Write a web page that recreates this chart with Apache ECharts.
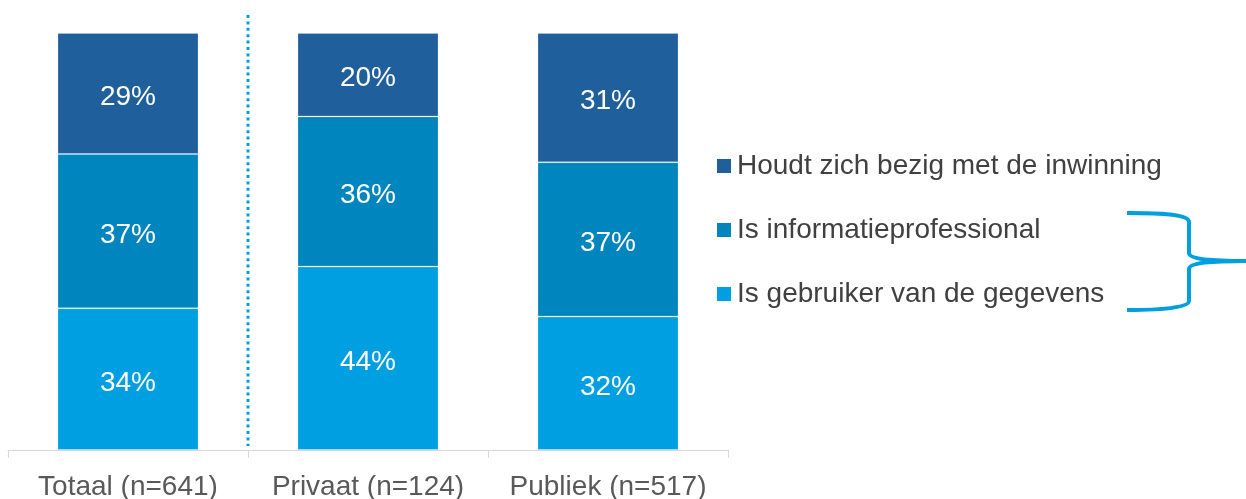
<!DOCTYPE html>
<html>
<head>
<meta charset="utf-8">
<script src="https://cdn.jsdelivr.net/npm/echarts@6/dist/echarts.min.js"></script>
<style>
  html, body { margin: 0; padding: 0; background: #fff; }
  #chart { width: 1246px; height: 499px; }
</style>
</head>
<body>
<div id="chart"></div>
<script>
const categories = ['Totaal (n=641)', 'Privaat (n=124)', 'Publiek (n=517)'];
const seriesNames = ['Houdt zich bezig met de inwinning', 'Is informatieprofessional', 'Is gebruiker van de gegevens'];
const gebruiker = [34, 44, 32];
const informatie = [37, 36, 37];
const inwinning = [29, 20, 31];
const colors = ['#1F5F9B', '#0085BF', '#009FE1'];

const font = '"Liberation Sans", Arial, sans-serif';

let chart = echarts.init(document.getElementById('chart'));

function barSeries(name, data, color) {
    return {
        name: name,
        type: 'bar',
        stack: 'total',
        barWidth: 141,
        data: data,
        itemStyle: {
            color: color,
            borderColor: 'rgba(255,255,255,0.2)',
            borderWidth: 1
        },
        label: {
            show: true,
            position: 'inside',
            offset: [0, 4],
            formatter: '{c}%',
            color: '#fff',
            fontSize: 28,
            fontFamily: font
        }
    };
}

let option = {
    animation: false,
    grid: {left: 8, right: 518, top: 33, bottom: 49, outerBoundsMode: 'none'},
    legend: {
        orient: 'vertical',
        left: 712,
        top: 147,
        icon: 'rect',
        itemWidth: 14,
        itemHeight: 14,
        itemGap: 36,
        itemStyle: {borderWidth: 0},
        data: seriesNames,
        textStyle: {
            fontSize: 28,
            lineHeight: 28,
            color: '#404040',
            fontFamily: font,
            padding: [0, 0, 0, 1]
        }
    },
    xAxis: {
        type: 'category',
        data: categories,
        axisLine: {lineStyle: {color: '#D9D9D9', width: 1}},
        axisTick: {show: true, length: 8, lineStyle: {color: '#D9D9D9'}},
        axisLabel: {
            interval: 0,
            margin: 23,
            fontSize: 28,
            color: '#595959',
            fontFamily: font
        }
    },
    yAxis: {
        type: 'value',
        min: 0,
        max: 100,
        show: false
    },
    series: [
        barSeries(seriesNames[2], gebruiker, colors[2]),
        barSeries(seriesNames[1], informatie, colors[1]),
        barSeries(seriesNames[0], inwinning, colors[0])
    ]
};

chart.setOption(option);

// dotted separator between Totaal and Privaat, brace next to legend
let x0 = chart.convertToPixel({xAxisIndex: 0}, categories[0]);
let x1 = chart.convertToPixel({xAxisIndex: 0}, categories[1]);
let sepX = Math.round((x0 + x1) / 2);
let axisY = chart.convertToPixel({yAxisIndex: 0}, 0);

const braceStyle = {stroke: '#00A0E0', lineWidth: 4, fill: null};

chart.setOption({
    graphic: [
        {
            type: 'line',
            shape: {x1: sepX, y1: 15, x2: sepX, y2: axisY - 4},
            style: {stroke: '#00A0E0', lineWidth: 3, lineDash: [3, 3.4]}
        },
        {
            type: 'bezierCurve',
            shape: {x1: 1127, y1: 213, cpx1: 1160, cpy1: 213, cpx2: 1189, cpy2: 214, x2: 1189, y2: 222},
            style: braceStyle
        },
        {
            type: 'line',
            shape: {x1: 1189, y1: 222, x2: 1189, y2: 253},
            style: braceStyle
        },
        {
            type: 'bezierCurve',
            shape: {x1: 1189, y1: 253, cpx1: 1189, cpy1: 259, cpx2: 1210, cpy2: 261, x2: 1248, y2: 261},
            style: braceStyle
        },
        {
            type: 'bezierCurve',
            shape: {x1: 1248, y1: 261, cpx1: 1210, cpy1: 261, cpx2: 1189, cpy2: 263, x2: 1189, y2: 269},
            style: braceStyle
        },
        {
            type: 'line',
            shape: {x1: 1189, y1: 269, x2: 1189, y2: 301},
            style: braceStyle
        },
        {
            type: 'bezierCurve',
            shape: {x1: 1189, y1: 301, cpx1: 1189, cpy1: 308, cpx2: 1160, cpy2: 310, x2: 1127, y2: 310},
            style: braceStyle
        }
    ]
});
</script>
</body>
</html>
